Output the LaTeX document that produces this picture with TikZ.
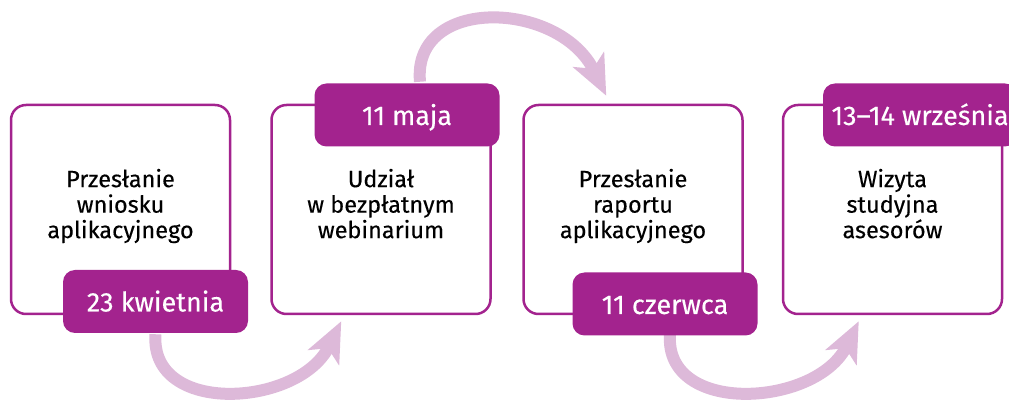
\documentclass[tikz,border=0pt]{standalone}
\usepackage{fontspec}
\setmainfont{Fira Sans}
\newfontfamily\stepfont{Fira Sans}[FakeBold=0.25]
\usepackage{xcolor}
\usepackage{tikz}
\usetikzlibrary{calc,arrows.meta}

\definecolor{plum}{HTML}{A3238E}
\definecolor{lilac}{HTML}{DDB9D9}

\begin{document}
\begin{tikzpicture}[x=1pt,y=1pt,
  stepbox/.style={draw=plum,line width=2.5pt,fill=white,rounded corners=15pt,
    minimum width=219pt,minimum height=209pt,align=center,text depth=12pt,
    font=\stepfont\fontsize{23.5}{25.5}\selectfont},
  datebox/.style={fill=plum,rounded corners=12pt,minimum width=185pt,minimum height=63pt,
    text=white,text height=20pt,text depth=0pt,font=\stepfont\fontsize{27}{30}\selectfont},
  hop/.style={draw=lilac,line width=12pt,-{Stealth[length=40pt,width=34pt,inset=10pt]}}]

\useasboundingbox (0,0) rectangle (1009,401);

\pgfmathsetmacro{\YB}{191.5}

% boxes
\node[stepbox] (box1) at (120.5,\YB) {Przesłanie\\wniosku\\aplikacyjnego};
\node[stepbox] (box2) at (381,\YB) {Udział\\w bezpłatnym\\webinarium};
\node[stepbox] (box3) at (633,\YB) {Przesłanie\\raportu\\aplikacyjnego};
\node[stepbox] (box4) at (892.5,\YB) {Wizyta\\studyjna\\asesorów};

% arrows between the steps
\draw[hop] ($(box1.south)+(35,-19)$) .. controls +(-6,-82) and +(-42,-86) .. ($(box2.south west)+(71,-6)$);
\draw[hop] ($(box2.north)+(39,22)$) .. controls +(-8,86) and +(-47,96) .. ($(box3.north west)+(84,8)$);
\draw[hop] ($(box3.south)+(37,-19)$) .. controls +(-6,-82) and +(-42,-86) .. ($(box4.south west)+(77,-6)$);

% dates
\node[datebox] (date1) at (155.5,99.5) {23 kwietnia};
\node[datebox] (date2) at (407,286) {11 maja};
\node[datebox] (date3) at (665,97) {11 czerwca};
\node[datebox,minimum width=194pt] (date4) at (920,286) {13–14 września};
\end{tikzpicture}
\end{document}
